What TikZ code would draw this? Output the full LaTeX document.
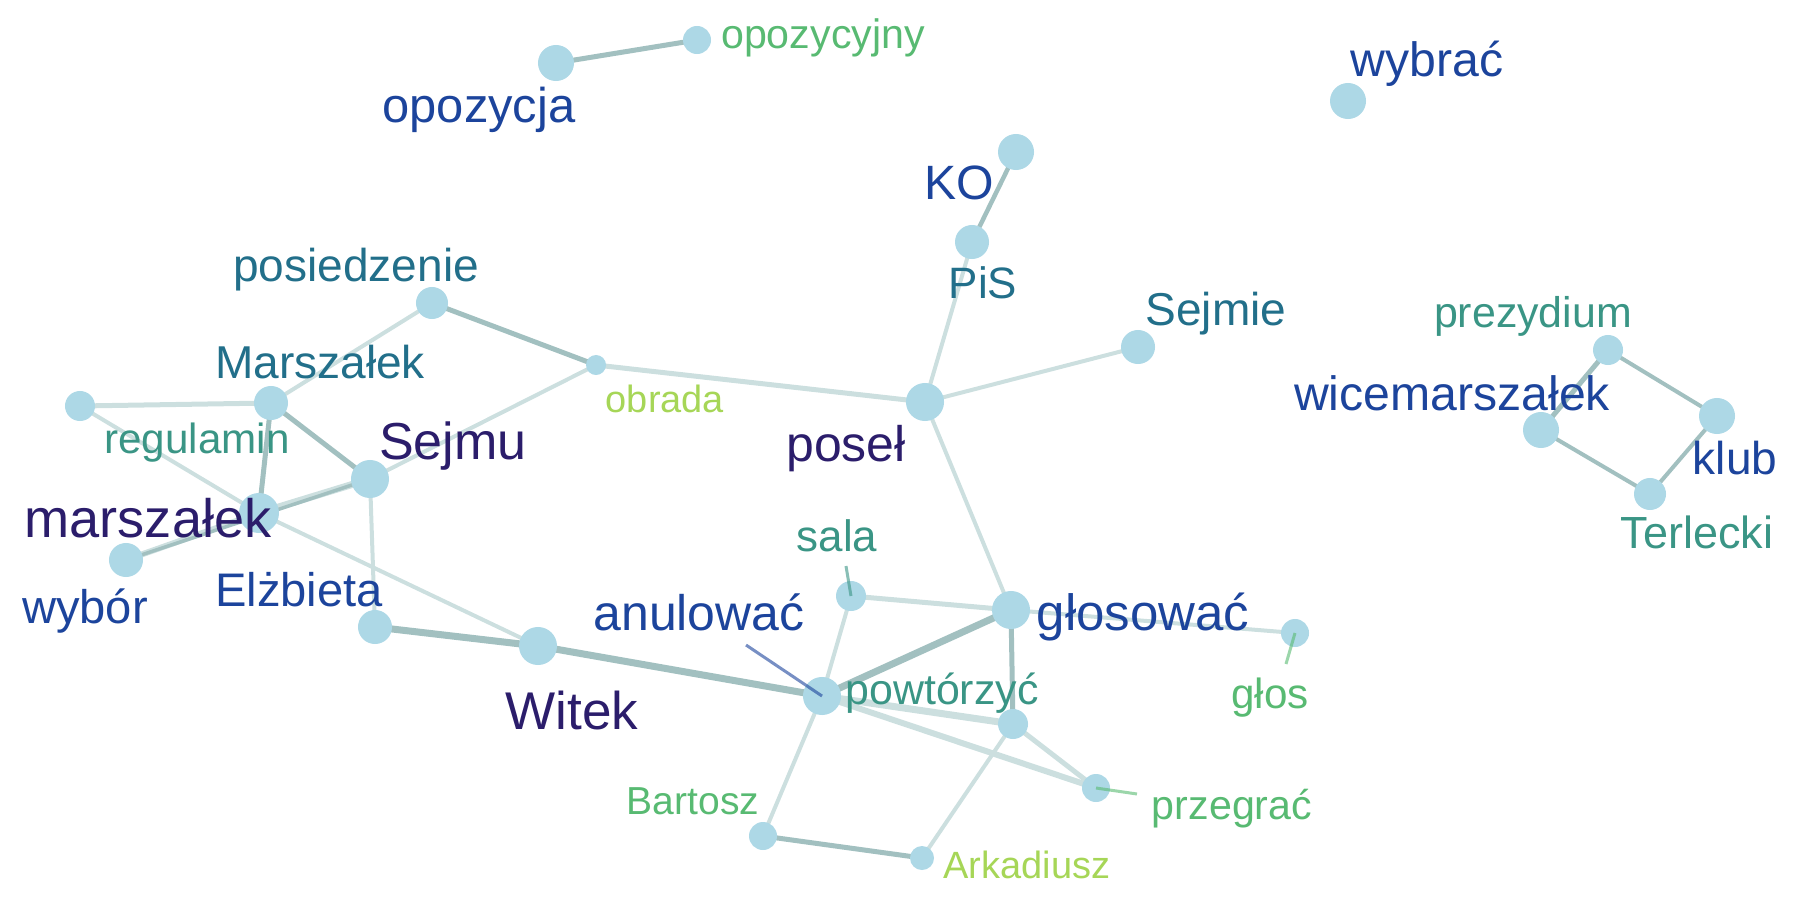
\documentclass[tikz,border=0pt]{standalone}
\usepackage{fontspec}
\setmainfont{Liberation Sans}
\usetikzlibrary{backgrounds}
\definecolor{nodecol}{HTML}{ADD8E6}
\definecolor{edark}{HTML}{A2C0C0}
\definecolor{elight}{HTML}{CCDFDF}
\definecolor{cpurple}{HTML}{2B1D6B}
\definecolor{cdblue}{HTML}{1C449C}
\definecolor{ctblue}{HTML}{226F8A}
\definecolor{ctgreen}{HTML}{3A9585}
\definecolor{cgreen}{HTML}{58BA72}
\definecolor{clgreen}{HTML}{A6D657}
\newcommand{\fsz}[1]{\fontsize{#1}{#1}\selectfont}
\tikzset{
  vtx/.style={circle, fill=nodecol, draw=none, inner sep=0pt, minimum size=#1*0.02cm},
  lab/.style={anchor=base, inner sep=0pt},
  edk/.style={draw=edark, line width=#1*0.2845pt},
  elt/.style={draw=elight, line width=#1*0.2845pt},
  leader/.style={line width=3*0.2845pt, opacity=0.6}
}
\begin{document}
\begin{tikzpicture}[x=0.01cm, y=-0.01cm]
\useasboundingbox (0,0) rectangle (1800,900);
% vertices
\node[vtx=18] (opozycja) at (556,63) {};
\node[vtx=14] (opozycyjny) at (697,40) {};
\node[vtx=18] (wybrac) at (1348,101) {};
\node[vtx=18] (KO) at (1016,152) {};
\node[vtx=17] (PiS) at (972,242) {};
\node[vtx=16] (posiedzenie) at (432,303) {};
\node[vtx=10] (obrada) at (596,365) {};
\node[vtx=19] (posel) at (925,402) {};
\node[vtx=17] (Sejmie) at (1138,347) {};
\node[vtx=17] (MarszalekU) at (271,403) {};
\node[vtx=15] (regulamin) at (80,406) {};
\node[vtx=19] (Sejmu) at (370,479) {};
\node[vtx=20] (marszalek) at (259,513) {};
\node[vtx=17] (wybor) at (126,560) {};
\node[vtx=17] (Elzbieta) at (375,627) {};
\node[vtx=19] (Witek) at (538,646) {};
\node[vtx=19] (anulowac) at (822,696) {};
\node[vtx=15] (powtorzyc) at (1013,724) {};
\node[vtx=15] (sala) at (851,596) {};
\node[vtx=19] (glosowac) at (1011,610) {};
\node[vtx=14] (glos) at (1295,633) {};
\node[vtx=14] (przegrac) at (1096,788) {};
\node[vtx=14] (Bartosz) at (763,836) {};
\node[vtx=12] (Arkadiusz) at (922,858) {};
\node[vtx=15] (prezydium) at (1608,350) {};
\node[vtx=18] (wicemarszalek) at (1541,430) {};
\node[vtx=18] (klub) at (1717,416) {};
\node[vtx=16] (Terlecki) at (1650,494) {};
% edges
\begin{scope}[on background layer]
\draw[edk=5] (opozycja.center) -- (opozycyjny.center);
\draw[edk=4.5] (KO.center) -- (PiS.center);
\draw[elt=4] (PiS.center) -- (posel.center);
\draw[elt=4] (Sejmie.center) -- (posel.center);
\draw[elt=5] (obrada.center) -- (posel.center);
\draw[edk=5] (posiedzenie.center) -- (obrada.center);
\draw[elt=4] (posiedzenie.center) -- (MarszalekU.center);
\draw[elt=4] (obrada.center) -- (Sejmu.center);
\draw[elt=5] (regulamin.center) -- (MarszalekU.center);
\draw[edk=5] (MarszalekU.center) -- (Sejmu.center);
\draw[edk=5] (MarszalekU.center) -- (marszalek.center);
\draw[elt=4] (regulamin.center) -- (marszalek.center);
\draw[elt=4] (marszalek.center) -- (Witek.center);
\draw[elt=7] (marszalek.center) -- (Sejmu.center);
\draw[elt=6] (wybor.center) -- (marszalek.center);
\draw[edk=3.5] (wybor.center) -- (Sejmu.center);
\draw[elt=4] (Sejmu.center) -- (Elzbieta.center);
\draw[edk=7] (Elzbieta.center) -- (Witek.center);
\draw[edk=7] (Witek.center) -- (anulowac.center);
\draw[edk=7] (anulowac.center) -- (glosowac.center);
\draw[elt=4] (anulowac.center) -- (sala.center);
\draw[elt=5] (sala.center) -- (glosowac.center);
\draw[elt=4] (posel.center) -- (glosowac.center);
\draw[edk=5] (glosowac.center) -- (powtorzyc.center);
\draw[elt=4] (glosowac.center) -- (glos.center);
\draw[elt=7] (anulowac.center) -- (powtorzyc.center);
\draw[elt=6] (anulowac.center) -- (przegrac.center);
\draw[elt=5] (powtorzyc.center) -- (przegrac.center);
\draw[elt=4] (powtorzyc.center) -- (Arkadiusz.center);
\draw[elt=4] (anulowac.center) -- (Bartosz.center);
\draw[edk=5] (Bartosz.center) -- (Arkadiusz.center);
\draw[edk=5] (prezydium.center) -- (wicemarszalek.center);
\draw[edk=4] (prezydium.center) -- (klub.center);
\draw[edk=4] (wicemarszalek.center) -- (Terlecki.center);
\draw[edk=4] (Terlecki.center) -- (klub.center);
\end{scope}
% leader lines
\coordinate (la) at (746,645);
\coordinate (ls) at (846,566);
\coordinate (lg) at (1286,664);
\coordinate (lp) at (1137,794);
\draw[leader, draw=cdblue] (la) -- (anulowac.center);
\draw[leader, draw=ctgreen] (ls) -- (sala.center);
\draw[leader, draw=cgreen] (lg) -- (glos.center);
\draw[leader, draw=cgreen] (przegrac.center) -- (lp);
% labels
\node[lab, text=cdblue, font=\fsz{13.9}] (t-opozycja) at (479,122) {opozycja};
\node[lab, text=cgreen, font=\fsz{11.7}] (t-opozycyjny) at (823,48) {opozycyjny};
\node[lab, text=cdblue, font=\fsz{13.7}] (t-wybrac) at (1427,77) {wybrać};
\node[lab, text=cdblue, font=\fsz{13.7}] (t-KO) at (959,199) {KO};
\node[lab, text=ctblue, font=\fsz{12.5}] (t-PiS) at (983,298) {PiS};
\node[lab, text=ctblue, font=\fsz{13.1}] (t-posiedzenie) at (356,281) {posiedzenie};
\node[lab, text=clgreen, font=\fsz{10.8}] (t-obrada) at (665,412) {obrada};
\node[lab, text=cpurple, font=\fsz{14.2}] (t-posel) at (846,461) {poseł};
\node[lab, text=ctblue, font=\fsz{13.1}] (t-Sejmie) at (1216,325) {Sejmie};
\node[lab, text=ctblue, font=\fsz{13.1}] (t-MarszalekU) at (320,378) {Marszałek};
\node[lab, text=ctgreen, font=\fsz{12}] (t-regulamin) at (197,453) {regulamin};
\node[lab, text=cpurple, font=\fsz{14.8}] (t-Sejmu) at (453,459) {Sejmu};
\node[lab, text=cpurple, font=\fsz{15.4}] (t-marszalek) at (148,537) {marszałek};
\node[lab, text=cdblue, font=\fsz{13.4}] (t-wybor) at (85,623) {wybór};
\node[lab, text=cdblue, font=\fsz{13.4}] (t-Elzbieta) at (299,606) {Elżbieta};
\node[lab, text=cpurple, font=\fsz{15.1}] (t-Witek) at (572,729) {Witek};
\node[lab, text=cdblue, font=\fsz{14.2}] (t-anulowac) at (699,630) {anulować};
\node[lab, text=ctgreen, font=\fsz{12.2}] (t-powtorzyc) at (942,704) {powtórzyć};
\node[lab, text=ctgreen, font=\fsz{12.5}] (t-sala) at (837,551) {sala};
\node[lab, text=cdblue, font=\fsz{14.5}] (t-glosowac) at (1143,630) {głosować};
\node[lab, text=cgreen, font=\fsz{12}] (t-glos) at (1270,708) {głos};
\node[lab, text=cgreen, font=\fsz{11.7}] (t-przegrac) at (1232,819) {przegrać};
\node[lab, text=cgreen, font=\fsz{11.1}] (t-Bartosz) at (693,814) {Bartosz};
\node[lab, text=clgreen, font=\fsz{10.8}] (t-Arkadiusz) at (1027,878) {Arkadiusz};
\node[lab, text=ctgreen, font=\fsz{12.2}] (t-prezydium) at (1533,327) {prezydium};
\node[lab, text=cdblue, font=\fsz{13.7}] (t-wicemarszalek) at (1452,410) {wicemarszałek};
\node[lab, text=cdblue, font=\fsz{13.1}] (t-klub) at (1735,474) {klub};
\node[lab, text=ctgreen, font=\fsz{12.8}] (t-Terlecki) at (1697,548) {Terlecki};
\end{tikzpicture}
\end{document}
